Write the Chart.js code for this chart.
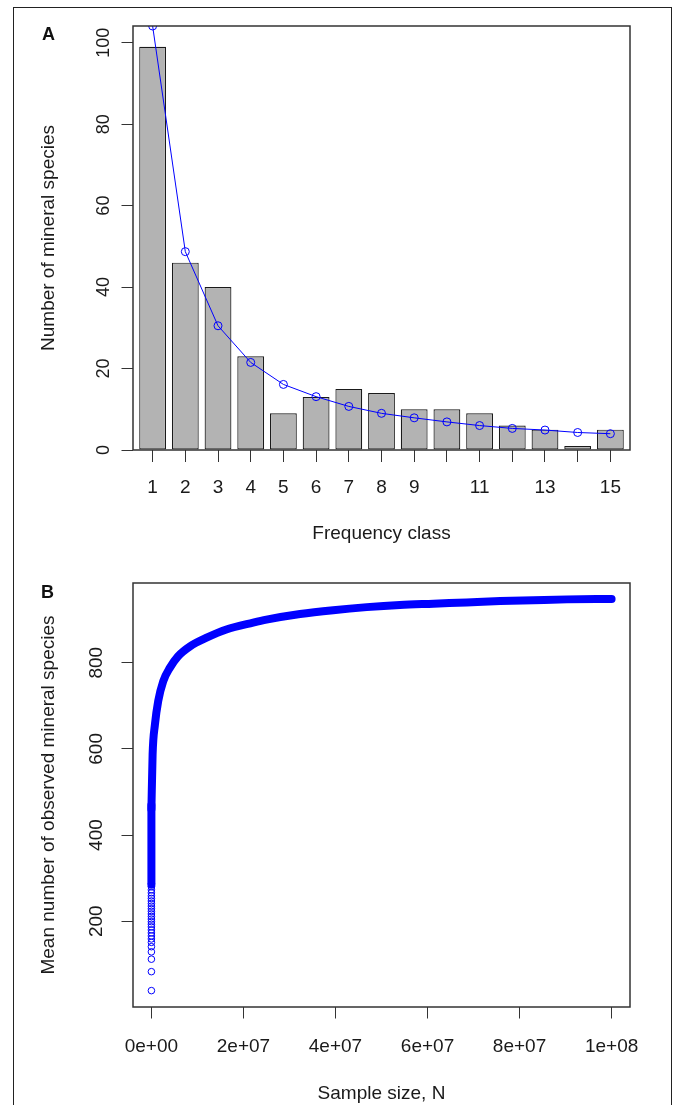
<!DOCTYPE html>
<html><head><meta charset="utf-8">
<script src="https://cdn.jsdelivr.net/npm/chart.js@4"></script>
<style>
html,body{margin:0;padding:0;background:#fff;overflow:hidden;}
#wrap{position:relative;width:673px;height:1105px;overflow:hidden;}
#frame{position:absolute;left:13px;top:7px;width:659px;height:1200px;border:1.5px solid #222;box-sizing:border-box;}
canvas{position:absolute;left:0;}
#ca{top:0;} #cb{top:557px;}
.lab{position:absolute;font:bold 18px "Liberation Sans",Arial,sans-serif;color:#111;}
</style></head><body>
<div id="wrap">
<div id="frame"></div>
<canvas id="ca" width="673" height="560"></canvas>
<canvas id="cb" width="673" height="560"></canvas>
<div class="lab" style="left:42px;top:24px">A</div>
<div class="lab" style="left:41px;top:582px">B</div>
</div>
<script>
// ---- Panel A data ----
const freqClasses   = [1,2,3,4,5,6,7,8,9,10,11,12,13,14,15];
const speciesCounts = [99,46,40,23,9,13,15,14,10,10,9,6,5,1,5];
const fittedCounts  = [104.1,48.7,30.5,21.5,16.1,13.1,10.7,9.0,7.9,6.9,6.0,5.3,4.9,4.3,4.0];
const aXTickLabels  = ['1','2','3','4','5','6','7','8','9','','11','','13','','15'];
const aYTicks       = [0,20,40,60,80,100];

// ---- Panel B data ----
const lowSampleN   = [0,0,0,0,0,0,0,0,0,0,0,0,0,0,0,0,0,0,0,0,0,0,0,0,0,0,0];
const lowMeanObs   = [39,83,112,129,141,151,159,166,173,180,187,193,199,205,211,217,223,229,235,241,247,253,259,266,273,280,287];
const columnSampleN = [0,0];
const columnMeanObs = [285,470];
const curveSampleN = [0,2.6e5,7.6e5,1.48e6,2.57e6,4.0e6,5.8e6,8.4e6,1.2e7,1.63e7,2.21e7,2.5e7,3.23e7,3.95e7,4.68e7,5.4e7,6.13e7,6.85e7,7.58e7,8.3e7,9.03e7,1.0e8];
const curveMeanObs = [460,587,656,711,757,788,815,838,858,877,893,900,913,922,929,934,937,940,943,945,947,948];
const bXTicks      = [0,2e7,4e7,6e7,8e7,1e8];
const bXTickLabels = ['0e+00','2e+07','4e+07','6e+07','8e+07','1e+08'];
const bYTicks      = [200,400,600,800];

Chart.defaults.font.family = '"Liberation Sans", Arial, sans-serif';
Chart.defaults.color = '#1a1a1a';

const BLUE = '#0000ff';
const boxPlugin = {
  id: 'box',
  afterDatasetsDraw(chart) {
    const {ctx, chartArea: a} = chart;
    ctx.save();
    ctx.strokeStyle = '#333';
    ctx.lineWidth = 1.5;
    ctx.strokeRect(a.left, a.top, a.right - a.left, a.bottom - a.top);
    ctx.restore();
  }
};

function tickGrid(len) {
  return { display: true, drawOnChartArea: false, drawTicks: true, tickLength: len, color: '#333', lineWidth: 1, offset: false };
}

new Chart(document.getElementById('ca'), {
  type: 'bar',
  plugins: [boxPlugin],
  data: {
    datasets: [
      {
        type: 'line',
        data: freqClasses.map((x, i) => ({x: x, y: fittedCounts[i]})),
        borderColor: BLUE, borderWidth: 1, fill: false,
        pointRadius: 4, pointStyle: 'circle',
        pointBackgroundColor: 'rgba(0,0,0,0)', pointBorderColor: BLUE, pointBorderWidth: 1,
        tension: 0, order: 0
      },
      {
        type: 'bar',
        data: freqClasses.map((x, i) => ({x: x, y: speciesCounts[i]})),
        backgroundColor: '#b3b3b3', borderColor: '#1a1a1a', borderWidth: 1.2, borderSkipped: false,
        categoryPercentage: 1, barPercentage: 0.82, order: 1
      }
    ]
  },
  options: {
    responsive: false, animation: false, devicePixelRatio: 1,
    layout: { padding: { top: 26, right: 43, bottom: 0, left: 0 } },
    plugins: { legend: { display: false }, tooltip: { enabled: false } },
    scales: {
      x: {
        type: 'linear', min: 0.4, max: 15.6, offset: false,
        afterBuildTicks: s => { s.ticks = freqClasses.map(v => ({value: v})); },
        ticks: { autoSkip: false, minRotation: 0, maxRotation: 0, padding: 14, font: { size: 19 },
                 callback: (v, i) => aXTickLabels[i] },
        grid: tickGrid(12),
        border: { display: false },
        title: { display: true, text: 'Frequency class', font: { size: 19 }, padding: { top: 0, bottom: 14.6 } },
        afterFit: s => { s.height = 110; }
      },
      y: {
        type: 'linear', min: 0, max: 104.1,
        afterBuildTicks: s => { s.ticks = aYTicks.map(v => ({value: v})); },
        ticks: { minRotation: 90, maxRotation: 90, crossAlign: 'center', padding: 2, font: { size: 18 },
                 callback: v => String(v) },
        grid: tickGrid(11.5),
        border: { display: false },
        title: { display: true, text: 'Number of mineral species', font: { size: 19 }, padding: { top: 37, bottom: 0 } },
        afterFit: s => { s.width = 133; }
      }
    }
  }
});

new Chart(document.getElementById('cb'), {
  type: 'scatter',
  plugins: [boxPlugin],
  data: {
    datasets: [
      {
        data: lowSampleN.map((x, i) => ({x: x, y: lowMeanObs[i]})),
        showLine: false, pointRadius: 3.3, pointStyle: 'circle',
        pointBackgroundColor: 'rgba(0,0,0,0)', pointBorderColor: BLUE, pointBorderWidth: 1
      },
      {
        data: columnSampleN.map((x, i) => ({x: x, y: columnMeanObs[i]})),
        showLine: true, borderColor: BLUE, borderWidth: 8, pointRadius: 0,
        borderCapStyle: 'round', borderJoinStyle: 'round', tension: 0
      },
      {
        data: curveSampleN.map((x, i) => ({x: x, y: curveMeanObs[i]})),
        showLine: true, borderColor: BLUE, borderWidth: 8, pointRadius: 0,
        borderCapStyle: 'round', borderJoinStyle: 'round', cubicInterpolationMode: 'monotone'
      }
    ]
  },
  options: {
    responsive: false, animation: false, devicePixelRatio: 1,
    layout: { padding: { top: 26, right: 43, bottom: 0, left: 0 } },
    plugins: { legend: { display: false }, tooltip: { enabled: false } },
    scales: {
      x: {
        type: 'linear', min: -4e6, max: 1.04e8,
        afterBuildTicks: s => { s.ticks = bXTicks.map(v => ({value: v})); },
        ticks: { autoSkip: false, minRotation: 0, maxRotation: 0, padding: 16.5, font: { size: 19 },
                 callback: (v, i) => bXTickLabels[i] },
        grid: tickGrid(11.5),
        border: { display: false },
        title: { display: true, text: 'Sample size, N', font: { size: 19 }, padding: { top: 0, bottom: 11.6 } },
        afterFit: s => { s.height = 110; }
      },
      y: {
        type: 'linear', min: 1, max: 985,
        afterBuildTicks: s => { s.ticks = bYTicks.map(v => ({value: v})); },
        ticks: { minRotation: 90, maxRotation: 90, crossAlign: 'center', padding: 8.5, font: { size: 19 },
                 callback: v => String(v) },
        grid: tickGrid(11.5),
        border: { display: false },
        title: { display: true, text: 'Mean number of observed mineral species', font: { size: 19 }, padding: { top: 37, bottom: 0 } },
        afterFit: s => { s.width = 133; }
      }
    }
  }
});
</script>
</body></html>
